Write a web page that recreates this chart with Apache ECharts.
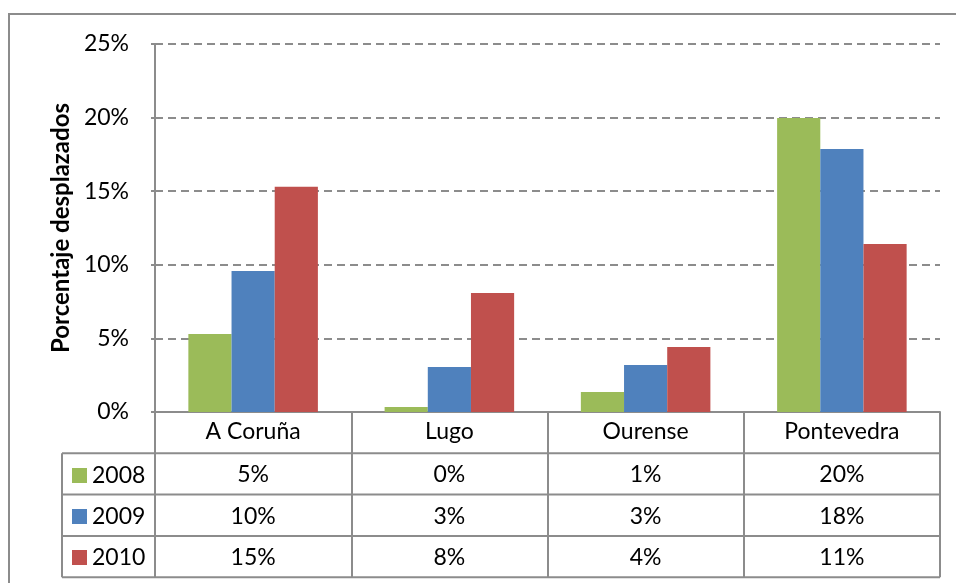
<!DOCTYPE html>
<html>
<head>
<meta charset="utf-8">
<script src="https://cdn.jsdelivr.net/npm/echarts@6/dist/echarts.min.js"></script>
<style>
    html, body { margin: 0; padding: 0; background: #fff; }
    #chart { width: 956px; height: 583px; }
</style>
</head>
<body>
<div id="chart"></div>
<script>
// provinces and yearly share of displaced (percent)
const provincias = ['A Coruña', 'Lugo', 'Ourense', 'Pontevedra'];
const years = ['2008', '2009', '2010'];
const v2008 = [5.3, 0.34, 1.36, 19.97];
const v2009 = [9.58, 3.06, 3.19, 17.87];
const v2010 = [15.3, 8.08, 4.42, 11.41];
const yTicks = [0, 5, 10, 15, 20, 25];

const colores = ['#9BBB59', '#4F81BD', '#C0504D'];
const FONT = 'Lato';
const GRIS = '#8C8C8C';

// layout
const L = 155, R = 940, T = 44, B = 412;
const rowH = 41.3;
const tableLeft = 62;

const fmt = v => Math.round(v) + '%';
const allVals = [v2008, v2009, v2010];

let myChart = echarts.init(document.getElementById('chart'));

let xAxes = [{
    type: 'category',
    data: provincias,
    position: 'bottom',
    axisLine: { lineStyle: { color: GRIS, width: 2 } },
    axisTick: { show: true, length: rowH * 4, lineStyle: { color: GRIS, width: 2 } },
    axisLabel: { color: '#000', fontFamily: FONT, fontSize: 23, margin: 8 }
}];
allVals.forEach((vals, i) => {
    xAxes.push({
        type: 'category',
        data: vals.map(fmt),
        position: 'bottom',
        offset: rowH * (i + 1),
        axisLine: { show: false },
        axisTick: { show: false },
        axisLabel: { color: '#000', fontFamily: FONT, fontSize: 23, margin: 10 }
    });
});

// table lines (horizontal rows + legend column)
let lines = [];
for (let k = 1; k <= 4; k++) {
    let y = B + rowH * k;
    lines.push({ type: 'line', shape: { x1: tableLeft, y1: y, x2: R, y2: y }, style: { stroke: GRIS, lineWidth: 2 } });
}
lines.push({ type: 'line', shape: { x1: tableLeft, y1: B + rowH, x2: tableLeft, y2: B + rowH * 4 }, style: { stroke: GRIS, lineWidth: 2 } });
lines.push({ type: 'rect', shape: { x: 9, y: 14, width: 980, height: 620 }, style: { fill: 'none', stroke: GRIS, lineWidth: 2 }, z: -1 });

myChart.setOption({
    animation: false,
    backgroundColor: '#fff',
    grid: { left: L, right: 956 - R, top: T, bottom: 583 - B },
    legend: {
        orient: 'vertical',
        left: 67,
        top: 459,
        itemWidth: 15,
        itemHeight: 15,
        itemGap: 18,
        icon: 'rect',
        textStyle: { color: '#000', fontFamily: FONT, fontSize: 23 },
        data: years
    },
    xAxis: xAxes,
    yAxis: {
        type: 'value',
        min: 0,
        max: 25,
        interval: 5,
        name: 'Porcentaje desplazados',
        nameLocation: 'middle',
        nameGap: 76,
        nameRotate: 90,
        nameTextStyle: { color: '#000', fontFamily: FONT, fontSize: 24, fontWeight: 'bold' },
        axisLine: { show: true, lineStyle: { color: GRIS, width: 2 } },
        axisTick: { show: true, length: 4, lineStyle: { color: GRIS, width: 2 } },
        axisLabel: { color: '#000', fontFamily: FONT, fontSize: 23, margin: 26, formatter: '{value}%' },
        splitLine: { lineStyle: { color: GRIS, width: 2, type: [8, 5] } }
    },
    graphic: lines,
    series: years.map((y, i) => ({
        name: y,
        type: 'bar',
        data: allVals[i],
        barGap: '0%',
        barCategoryGap: '34%',
        itemStyle: { color: colores[i] }
    }))
});
</script>
</body>
</html>
